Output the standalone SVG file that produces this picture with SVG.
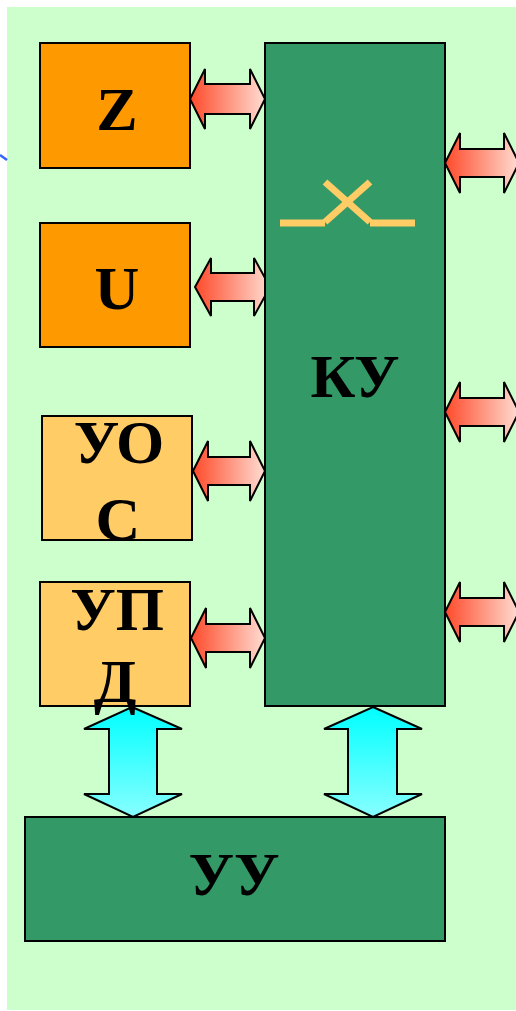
<svg xmlns="http://www.w3.org/2000/svg" width="516" height="1011" viewBox="0 0 516 1011">
  <defs>
    <linearGradient id="red" x1="0" y1="0" x2="1" y2="0">
      <stop offset="0" stop-color="#FF4A2A"/>
      <stop offset="1" stop-color="#FFDDD2"/>
    </linearGradient>
    <linearGradient id="cyan" x1="0" y1="0" x2="0" y2="1">
      <stop offset="0" stop-color="#00FFFF"/>
      <stop offset="1" stop-color="#88FFFF"/>
    </linearGradient>
    <style>
      .box { stroke: #000; stroke-width: 2; }
      .orange { fill: #FF9900; }
      .light { fill: #FFCC66; }
      .green { fill: #339966; }
      .lbl { font-family: "Liberation Serif", "Times New Roman", serif; font-weight: bold; font-size: 62px; fill: #000; text-anchor: middle; }
      .ra { fill: url(#red); stroke: #000; stroke-width: 2; stroke-linejoin: miter; }
      .ca { fill: url(#cyan); stroke: #000; stroke-width: 2; stroke-linejoin: miter; }
      .sw { stroke: #FFCC66; stroke-width: 7; fill: none; }
    </style>
  </defs>
  <rect x="0" y="0" width="516" height="1011" fill="#FFFFFF"/>
  <rect x="7" y="7" width="509" height="1003" fill="#CCFFCC"/>
  <line x1="0" y1="155" x2="7" y2="160" stroke="#3366FF" stroke-width="2.5"/>

  <g id="connectors">
    <polygon class="ra" points="190,99 205,69 205,84 250,84 250,69 265,99 250,129 250,114 205,114 205,129"/>
    <polygon class="ra" points="195,287 211,258 211,273 254,273 254,258 270,287 254,316 254,301 211,301 211,316"/>
    <polygon class="ra" points="193,471 208,441 208,457 250,457 250,441 265,471 250,501 250,485 208,485 208,501"/>
    <polygon class="ra" points="191,638 206,608 206,624 250,624 250,608 265,638 250,668 250,652 206,652 206,668"/>
    <polygon class="ra" points="445,163 460,133 460,149 504,149 504,133 519,163 504,193 504,177 460,177 460,193"/>
    <polygon class="ra" points="445,412 460,382 460,398 504,398 504,382 519,412 504,442 504,426 460,426 460,442"/>
    <polygon class="ra" points="445,612 460,582 460,598 504,598 504,582 519,612 504,642 504,626 460,626 460,642"/>
    <polygon class="ca" points="132,707 182,729 157,729 157,794 182,794 133,817 84,794 109,794 109,729 84,729"/>
    <polygon class="ca" points="373,707 422,729 397,729 397,794 422,794 373,817 324,794 348,794 348,729 324,729"/>
  </g>

  <g id="node-KU">
    <rect class="box green" x="265" y="43" width="180" height="663"/>
    <line class="sw" x1="280" y1="223" x2="325" y2="223"/>
    <line class="sw" x1="370" y1="223" x2="415" y2="223"/>
    <line class="sw" x1="325" y1="182" x2="370" y2="222"/>
    <line class="sw" x1="370" y1="182" x2="325" y2="222"/>
    <text class="lbl" x="355" y="397">КУ</text>
  </g>
  <g id="node-Z">
    <rect class="box orange" x="40" y="43" width="150" height="125"/>
    <text class="lbl" x="117" y="130">Z</text>
  </g>
  <g id="node-U">
    <rect class="box orange" x="40" y="223" width="150" height="124"/>
    <text class="lbl" x="117" y="309">U</text>
  </g>
  <g id="node-UOS">
    <rect class="box light" x="42" y="416" width="150" height="124"/>
    <text class="lbl" x="119" y="463">УО</text>
    <text class="lbl" x="118" y="540">С</text>
  </g>
  <g id="node-UPD">
    <rect class="box light" x="40" y="582" width="150" height="124"/>
    <text class="lbl" x="117" y="630">УП</text>
    <text class="lbl" x="115" y="702">Д</text>
  </g>
  <g id="node-UU">
    <rect class="box green" x="25" y="817" width="420" height="124"/>
    <text class="lbl" x="234" y="895">УУ</text>
  </g>
</svg>
